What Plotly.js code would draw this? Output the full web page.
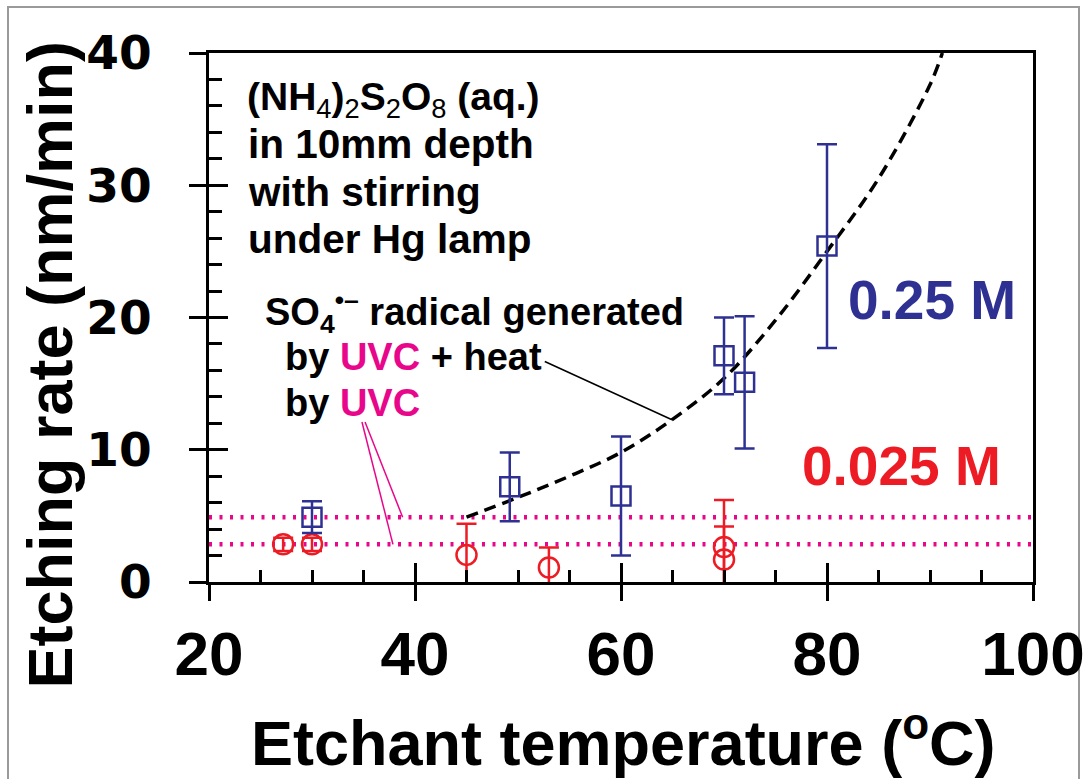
<!DOCTYPE html>
<html><head><meta charset="utf-8">
<script src="https://cdn.plot.ly/plotly-3.0.1.min.js"></script>
<style>html,body{margin:0;padding:0;background:#fff}#chart{width:1087px;height:779px}</style>
</head><body><div id="chart"></div>
<script>
// 0.25 M (blue squares)
const tempHigh = [30, 49.2, 60, 70, 72, 80];
const rateHigh = [4.9, 7.2, 6.5, 17.1, 15.1, 25.4];
const errHigh  = [1.2, 2.6, 4.5, 2.9, 5.0, 7.7];
// 0.025 M (red circles)
const tempLow = [27.2, 30, 45, 53, 70, 70];
const rateLow = [2.85, 2.85, 2.05, 1.1, 2.65, 1.7];
const errLow  = [0.5, 0.5, 2.35, 1.5, 3.55, 2.5];
// UVC-only levels (dotted lines)
const uvcLevels = [4.9, 2.85];
const uvcSpan = [20, 100];
// UVC + heat curve (dashed)
const fitTemp = [45, 50, 55, 60, 65, 70, 75, 80, 85, 90, 91.2];
const fitRate = [4.9, 6.4, 8.0, 9.8, 12.3, 15.4, 19.8, 25.0, 30.5, 37.6, 40];
// axes
const xTicks = [20, 40, 60, 80, 100];
const yTicks = [0, 10, 20, 30, 40];
const xMinor = [25, 30, 35, 45, 50, 55, 65, 70, 75, 85, 90, 95];
const yMinor = [2, 4, 6, 8, 12, 14, 16, 18, 22, 24, 26, 28, 32, 34, 36, 38];

const BLUE = '#2e3192', RED = '#ed1c24', MAG = '#e8078a';
const FONT = 'Liberation Sans, Arial, sans-serif';

const traces = [];
uvcLevels.forEach(v => traces.push({
  x: uvcSpan, y: [v, v], mode: 'lines', hoverinfo: 'skip',
  line: {color: MAG, width: 4.5, dash: '3px,7.5px'}
}));
traces.push({
  x: fitTemp, y: fitRate, mode: 'lines', line: {color: '#000', width: 3.5, dash: '12px,7px', shape: 'spline'}
});
traces.push({
  x: tempLow, y: rateLow, mode: 'markers',
  marker: {symbol: 'circle-open', size: 20, color: RED, line: {width: 2.5, color: RED}},
  error_y: {type: 'data', array: errLow, color: RED, thickness: 2.5, width: 10}
});
traces.push({
  x: tempHigh, y: rateHigh, mode: 'markers',
  marker: {symbol: 'square-open', size: 19, color: BLUE, line: {width: 2.5, color: BLUE}},
  error_y: {type: 'data', array: errHigh, color: BLUE, thickness: 2.5, width: 10}
});
traces.push({x: [], y: [], xaxis: 'x2', yaxis: 'y2', mode: 'markers'});
traces.push({x: [], y: [], xaxis: 'x3', yaxis: 'y3', mode: 'markers'});

const txt = (x, y, text, size, color, extra) => Object.assign({
  x, y, xref: 'x', yref: 'y', text, showarrow: false, xanchor: 'left', yanchor: 'middle',
  font: {family: FONT, size, color: color || '#000', weight: 'bold'}
}, extra || {});

const nw = s => '<span style="font-weight:normal">' + s + '</span>';
const annotations = [
  txt(23.5, 36.5, '(NH' + '<sub>' + nw('4') + '</sub>)<sub>' + nw('2') + '</sub>S<sub>' + nw('2') + '</sub>O<sub>' + nw('8') + '</sub> (aq.)', 39),
  txt(23.6, 33.1, 'in 10mm depth', 40.5),
  txt(23.6, 29.5, 'with stirring', 40.5),
  txt(23.6, 25.9, 'under Hg lamp', 40.5),
  txt(25.2, 20.45, 'SO<sub>4</sub><sup>•–</sup> radical generated', 38),
  txt(27.2, 17.05, 'by <span style="color:' + MAG + '">UVC</span> + heat', 38),
  txt(27.2, 13.56, 'by <span style="color:' + MAG + '">UVC</span>', 38),
  txt(81.8, 21.3, '0.25 M', 55, BLUE),
  txt(77.4, 8.8, '0.025 M', 55, RED),
  {xref: 'paper', yref: 'paper', x: (50 - 209) / 824, y: (582 - 365) / 528, textangle: -90,
   text: 'Etching rate (nm/min)', showarrow: false, xanchor: 'center', yanchor: 'middle',
   font: {family: FONT, size: 63, color: '#000', weight: 'bold'}},
  {xref: 'paper', yref: 'paper', x: (623 - 209) / 824, y: (582 - 738) / 528,
   text: 'Etchant temperature (<sup>o</sup>C)', showarrow: false, xanchor: 'center', yanchor: 'middle',
   font: {family: FONT, size: 63, color: '#000', weight: 'bold'}}
];

const shapes = [
  {type: 'line', xref: 'x', yref: 'y', x0: 52.6, y0: 16.67, x1: 64.95, y1: 12.27, line: {color: '#000', width: 1.5}},
  {type: 'line', xref: 'x', yref: 'y', x0: 34.85, y0: 12.1, x1: 37.86, y1: 2.85, line: {color: MAG, width: 1.5}},
  {type: 'line', xref: 'x', yref: 'y', x0: 35.15, y0: 12.1, x1: 38.8, y1: 4.9, line: {color: MAG, width: 1.5}},
  {type: 'rect', xref: 'paper', yref: 'paper', x0: (8 - 209) / 824, x1: (1079 - 209) / 824,
   y0: (582 - 792) / 528, y1: (582 - 8) / 528, line: {color: '#9a9a9a', width: 2}, layer: 'below'}
];

const tickAxis = (letter, over, anchor, vals, dir, len) => ({
  overlaying: over, anchor, side: letter === 'x' ? 'bottom' : 'left',
  range: letter === 'x' ? [20, 100] : [0, 40], tickmode: 'array', tickvals: vals,
  ticks: dir, ticklen: len, tickwidth: 3, tickcolor: '#000', showticklabels: false,
  showline: false, showgrid: false, zeroline: false
});

const layout = {
  width: 1087, height: 779,
  margin: {l: 209, r: 54, t: 53, b: 197},
  paper_bgcolor: '#fff', plot_bgcolor: '#fff',
  showlegend: false,
  xaxis: {
    range: [20, 100], tickmode: 'array', tickvals: xTicks, ticktext: xTicks.map(String),
    ticks: 'inside', ticklen: 19, tickwidth: 3, tickcolor: '#000',
    showline: true, linewidth: 3, linecolor: '#000', mirror: true,
    showgrid: false, zeroline: false, ticklabelstandoff: 16,
    tickfont: {family: FONT, size: 62, color: '#000', weight: 'bold'}
  },
  yaxis: {
    range: [0, 40], tickmode: 'array', tickvals: yTicks, ticktext: yTicks.map(String),
    ticks: 'inside', ticklen: 19, tickwidth: 3, tickcolor: '#000',
    showline: true, linewidth: 3, linecolor: '#000', mirror: true,
    showgrid: false, zeroline: false, ticklabelstandoff: 45,
    tickfont: {family: 'DejaVu Sans, sans-serif', size: 47, color: '#000', weight: 'bold'}
  },
  xaxis2: tickAxis('x', 'x', 'y2', xTicks, 'outside', 18),
  yaxis2: tickAxis('y', 'y', 'x2', yTicks, 'outside', 19),
  xaxis3: tickAxis('x', 'x', 'y3', xMinor, 'inside', 12),
  yaxis3: tickAxis('y', 'y', 'x3', yMinor, 'inside', 13),
  annotations, shapes
};

Plotly.newPlot('chart', traces, layout, {displayModeBar: false, staticPlot: true});
</script>
</body></html>
